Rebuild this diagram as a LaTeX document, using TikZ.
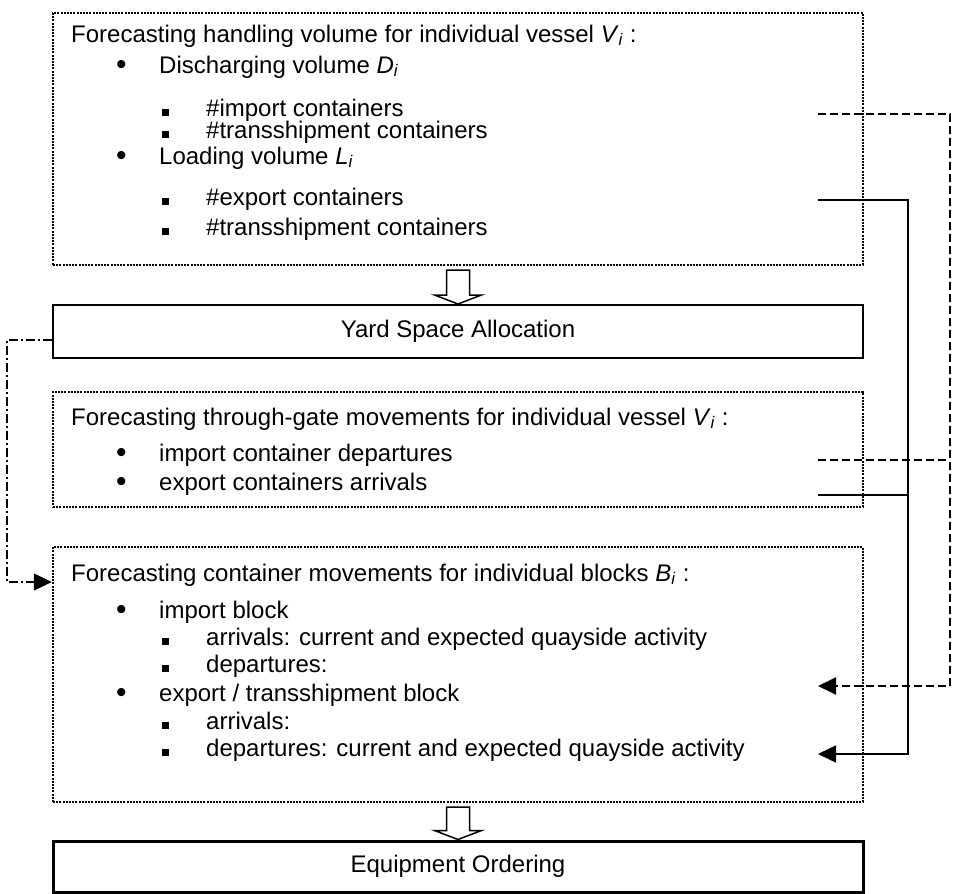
\documentclass[tikz,border=0pt]{standalone}
\usepackage{fontspec}
\setmainfont{Liberation Sans}
\usetikzlibrary{arrows.meta}

\tikzset{>={Triangle[length=18pt,width=17pt]}}
\tikzset{
  dotbox/.style={draw,line width=2.4pt,dash pattern=on 2pt off 1.2pt,
                 minimum width=810pt,inner sep=0pt},
  taskbox/.style={draw,line width=2pt,minimum width=810pt,
                  minimum height=53pt,inner sep=0pt},
  txt/.style={anchor=base west,inner sep=0pt},
  dashline/.style={line width=2pt,dash pattern=on 8pt off 4pt},
  dashdotline/.style={line width=1.5pt,dash pattern=on 9pt off 3pt on 2pt off 3pt},
  solidline/.style={line width=1.5pt},
  hollow/.style={draw,line width=1.5pt,fill=white,line join=miter},
}
\newcommand{\var}[2]{\textit{#1}\textsubscript{\textit{#2}}}
\newcommand{\bl}{\makebox[43pt][l]{\raisebox{-1.6pt}{\scalebox{1.25}{\textbullet}}}}
\newcommand{\sq}{\makebox[44pt][l]{\rule[0.5pt]{6.5pt}{6.5pt}}}
% hollow block arrow between two boxes
\newcommand{\blockarrow}[2]{%
  \draw[hollow] ([xshift=-11.5pt,yshift=-4pt]#1.south)
    -- ([xshift=-11.5pt,yshift=9pt]#2.north)
    -- ([xshift=-23.5pt,yshift=9pt]#2.north)
    -- (#2.north)
    -- ([xshift=23.5pt,yshift=9pt]#2.north)
    -- ([xshift=11.5pt,yshift=9pt]#2.north)
    -- ([xshift=11.5pt,yshift=-4pt]#1.south) -- cycle;}

\begin{document}
\begin{tikzpicture}[x=1pt,y=-1pt,font=\fontsize{24}{28}\selectfont]
  \useasboundingbox (0,0) rectangle (954,894);

  % BOXES
  \node[dotbox,minimum height=252pt] (vol)  at (458,139)   {};
  \node[taskbox]                     (yard) at (458,331.5) {Yard Space Allocation};
  \node[dotbox,minimum height=115pt] (gate) at (458,449.5) {};
  \node[dotbox,minimum height=255pt] (blk)  at (458,674.5) {};
  \node[taskbox,line width=3pt,minimum height=51pt] (equip) at (458,866.5) {Equipment Ordering};

  % HANDLING VOLUME
  \node[txt] (volT)  at (71,42)   {Forecasting handling volume for individual vessel \var{V}{i} :};
  \node[txt] (volD)  at (116,73)  {\bl Discharging volume \var{D}{i}};
  \node[txt] (volDa) at (162,116) {\sq\#import containers};
  \node[txt] (volDb) at (162,138) {\sq\#transshipment containers};
  \node[txt] (volL)  at (116,164) {\bl Loading volume \var{L}{i}};
  \node[txt] (volLa) at (162,205) {\sq\#export containers};
  \node[txt] (volLb) at (162,235) {\sq\#transshipment containers};

  % THROUGH-GATE
  \node[txt] (gateT) at (71,425)  {Forecasting through-gate movements for individual vessel \var{V}{i} :};
  \node[txt] (gateA) at (116,461) {\bl import container departures};
  \node[txt] (gateB) at (116,490) {\bl export containers arrivals};

  % BLOCKS
  \node[txt] (blkT)  at (71,581)  {Forecasting container movements for individual blocks \var{B}{i} :};
  \node[txt] (blkI)  at (116,618) {\bl import block};
  \node[txt] (blkIa) at (162,645) {\sq arrivals: current and expected quayside activity};
  \node[txt] (blkIb) at (162,672) {\sq departures:};
  \node[txt] (blkE)  at (116,701) {\bl export / transshipment block};
  \node[txt] (blkEa) at (162,729) {\sq arrivals:};
  \node[txt] (blkEb) at (162,756) {\sq departures: current and expected quayside activity};

  % FLOW
  \blockarrow{vol}{yard}
  \blockarrow{blk}{equip}

  % PATHS
  \coordinate (dsrc)  at (818,114);
  \coordinate (ssrc)  at (818,200);
  \coordinate (gdsrc) at (818,460);
  \coordinate (gssrc) at (818,495);
  \coordinate (ddst)  at (818,686);
  \coordinate (sdst)  at (818,754);
  \draw[dashline,->]  (dsrc) -- ++(132,0) |- (ddst);
  \draw[dashline]     (gdsrc) -- ++(132,0);
  \draw[solidline,->] (ssrc) -- ++(90,0) |- (sdst);
  \draw[solidline]    (gssrc) -- ++(90,0);
  \draw[dashdotline,->] ([yshift=-8.5pt]yard.west) -- ++(-45,0)
                        |- ([yshift=92.5pt]blk.west);

\end{tikzpicture}
\end{document}
